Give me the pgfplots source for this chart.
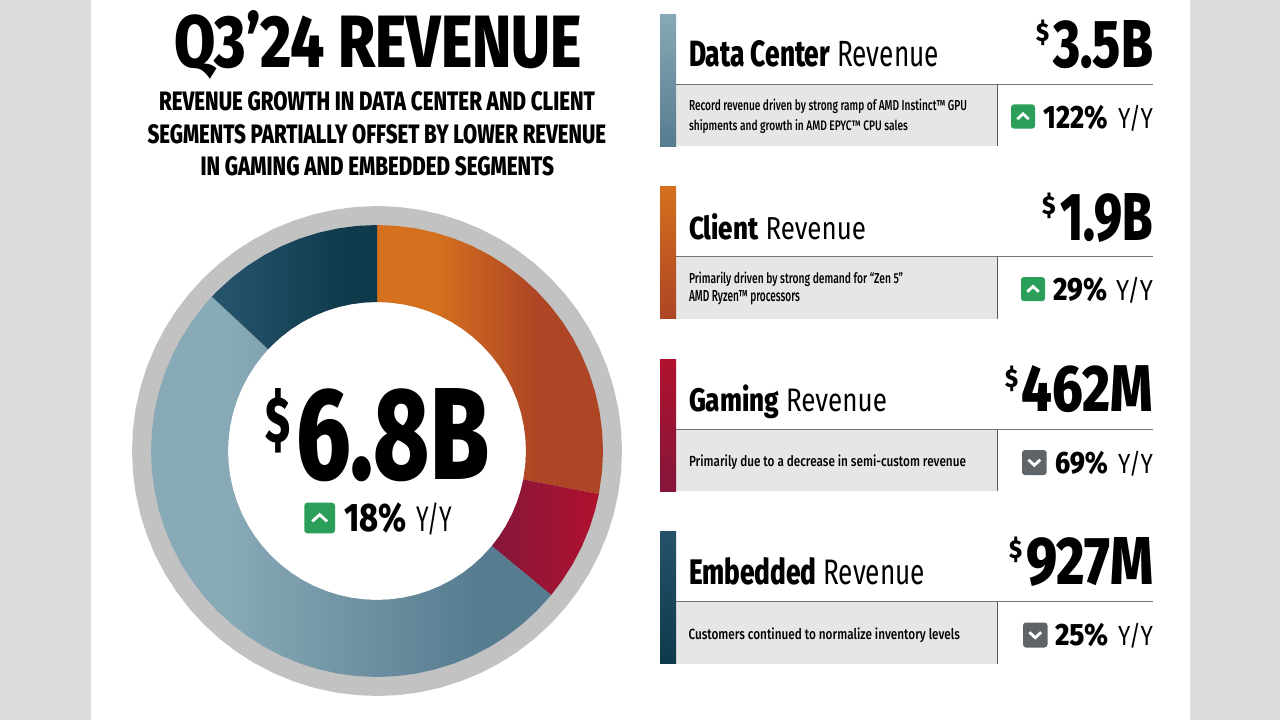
\documentclass[border=0pt]{standalone}
\usepackage{fontspec}
\usepackage{graphicx}
\usepackage{pgfplots}
\pgfplotsset{compat=1.18}
\usepgfplotslibrary{polar}
\setmainfont{Fira Sans}[BoldFont={Fira Sans ExtraBold}]
\newfontfamily\medfont{Fira Sans Medium}
\definecolor{pagegray}{HTML}{DCDCDC}
\definecolor{ringgray}{HTML}{C2C2C2}
\definecolor{boxgray}{HTML}{E6E6E6}
\definecolor{upgreen}{HTML}{2B9E5A}
\definecolor{downgray}{HTML}{5F6468}
\definecolor{dcL}{HTML}{88A9B6}\definecolor{dcR}{HTML}{567C90}
\definecolor{clL}{HTML}{D4701E}\definecolor{clR}{HTML}{AE4525}
\definecolor{gaL}{HTML}{84163A}\definecolor{gaR}{HTML}{B0122E}
\definecolor{emL}{HTML}{25526A}\definecolor{emR}{HTML}{0F3A4B}
\pgfdeclarehorizontalshading{clshade}{100bp}{color(0bp)=(clL); color(38bp)=(clL); color(60bp)=(clR); color(100bp)=(clR)}
\pgfdeclarehorizontalshading{dcshade}{100bp}{color(0bp)=(dcL); color(35bp)=(dcL); color(66bp)=(dcR); color(100bp)=(dcR)}
\pgfdeclarehorizontalshading{emshade}{100bp}{color(0bp)=(emL); color(30bp)=(emL); color(66bp)=(emR); color(100bp)=(emR)}
\newcommand{\T}[5]{\node[anchor=base west,inner sep=0pt,outer sep=0pt] at (#1pt,-#2pt) {\resizebox{#3pt}{#4pt}{\fontsize{20}{24}\selectfont #5}};}
\newcommand{\updown}[5]{% x0 y0 x1 y1 colour
  \fill[#5,rounded corners=3pt] (#1pt,-#2pt) rectangle (#3pt,-#4pt);}
\newcommand{\chevup}[4]{\pgfmathsetmacro\cx{(#1+#3)/2}\pgfmathsetmacro\cy{(#2+#4)/2}%
  \pgfmathsetmacro\hw{(#3-#1)*0.24}\pgfmathsetmacro\hh{(#4-#2)*0.11}%
  \draw[white,line width=2.8pt,line join=miter] (\cx pt-\hw pt,-\cy pt-\hh pt) -- (\cx pt,-\cy pt+\hh pt) -- (\cx pt+\hw pt,-\cy pt-\hh pt);}
\newcommand{\chevdown}[4]{\pgfmathsetmacro\cx{(#1+#3)/2}\pgfmathsetmacro\cy{(#2+#4)/2}%
  \pgfmathsetmacro\hw{(#3-#1)*0.24}\pgfmathsetmacro\hh{(#4-#2)*0.11}%
  \draw[white,line width=2.8pt,line join=miter] (\cx pt-\hw pt,-\cy pt+\hh pt) -- (\cx pt,-\cy pt-\hh pt) -- (\cx pt+\hw pt,-\cy pt+\hh pt);}
% panel: y-top, top colour, bottom colour
\newcommand{\panel}[3]{\pgfmathsetmacro\yb{#1+132}\pgfmathsetmacro\yl{#1+70}%
  \fill[boxgray] (676pt,-\yl pt) rectangle (997pt,-\yb pt);
  \shade[top color=#2,bottom color=#3] (660pt,-#1pt) rectangle (676pt,-\yb pt);
  \draw[color=black!55,line width=1pt] (676pt,-\yl pt) -- (1153pt,-\yl pt);
  \draw[color=black!65,line width=1pt] (997.5pt,-\yl pt) -- (997.5pt,-\yb pt);}
\begin{document}
\begin{tikzpicture}[x=1pt,y=1pt]
\fill[pagegray] (0pt,0pt) rectangle (1280pt,-720pt);
\fill[white] (91pt,0pt) rectangle (1190pt,-720pt);
\begin{polaraxis}[at={(377pt,-451pt)},anchor=center,scale only axis,width=490pt,height=490pt,
  xmin=0,xmax=360,ymin=0,ymax=245,hide axis,clip=false]
% outer grey ring
\addplot[fill=ringgray,draw=none] coordinates {(0,245)(5,245)(10,245)(15,245)(20,245)(25,245)(30,245)(35,245)(40,245)(45,245)(50,245)(55,245)(60,245)(65,245)(70,245)(75,245)(80,245)(85,245)(90,245)(95,245)(100,245)(105,245)(110,245)(115,245)(120,245)(125,245)(130,245)(135,245)(140,245)(145,245)(150,245)(155,245)(160,245)(165,245)(170,245)(175,245)(180,245)(185,245)(190,245)(195,245)(200,245)(205,245)(210,245)(215,245)(220,245)(225,245)(230,245)(235,245)(240,245)(245,245)(250,245)(255,245)(260,245)(265,245)(270,245)(275,245)(280,245)(285,245)(290,245)(295,245)(300,245)(305,245)(310,245)(315,245)(320,245)(325,245)(330,245)(335,245)(340,245)(345,245)(350,245)(355,245)} -- cycle;
% hole
\addplot[fill=white,draw=none] coordinates {(0,149)(5,149)(10,149)(15,149)(20,149)(25,149)(30,149)(35,149)(40,149)(45,149)(50,149)(55,149)(60,149)(65,149)(70,149)(75,149)(80,149)(85,149)(90,149)(95,149)(100,149)(105,149)(110,149)(115,149)(120,149)(125,149)(130,149)(135,149)(140,149)(145,149)(150,149)(155,149)(160,149)(165,149)(170,149)(175,149)(180,149)(185,149)(190,149)(195,149)(200,149)(205,149)(210,149)(215,149)(220,149)(225,149)(230,149)(235,149)(240,149)(245,149)(250,149)(255,149)(260,149)(265,149)(270,149)(275,149)(280,149)(285,149)(290,149)(295,149)(300,149)(305,149)(310,149)(315,149)(320,149)(325,149)(330,149)(335,149)(340,149)(345,149)(350,149)(355,149)} -- cycle;
% Client
\addplot[shade,shading=clshade,draw=none] coordinates {(90,226)(85,226)(80,226)(75,226)(70,226)(65,226)(60,226)(55,226)(50,226)(45,226)(40,226)(35,226)(30,226)(25,226)(20,226)(15,226)(10,226)(5,226)(0,226)(-5,226)(-11,226)
(-11,149)(-5,149)(0,149)(5,149)(10,149)(15,149)(20,149)(25,149)(30,149)(35,149)(40,149)(45,149)(50,149)(55,149)(60,149)(65,149)(70,149)(75,149)(80,149)(85,149)(90,149)} -- cycle;
% Gaming
\addplot[left color=gaL,right color=gaR,draw=none] coordinates {(-11,226)(-15,226)(-20,226)(-25,226)(-30,226)(-35,226)(-39.6,226)
(-39.6,149)(-35,149)(-30,149)(-25,149)(-20,149)(-15,149)(-11,149)} -- cycle;
% Data Center
\addplot[shade,shading=dcshade,draw=none] coordinates {(-39.6,226)(-45,226)(-50,226)(-55,226)(-60,226)(-65,226)(-70,226)(-75,226)(-80,226)(-85,226)(-90,226)(-95,226)(-100,226)(-105,226)(-110,226)(-115,226)(-120,226)(-125,226)(-130,226)(-135,226)(-140,226)(-145,226)(-150,226)(-155,226)(-160,226)(-165,226)(-170,226)(-175,226)(-180,226)(-185,226)(-190,226)(-195,226)(-200,226)(-205,226)(-210,226)(-215,226)(-220,226)(-223.1,226)
(-223.1,149)(-220,149)(-215,149)(-210,149)(-205,149)(-200,149)(-195,149)(-190,149)(-185,149)(-180,149)(-175,149)(-170,149)(-165,149)(-160,149)(-155,149)(-150,149)(-145,149)(-140,149)(-135,149)(-130,149)(-125,149)(-120,149)(-115,149)(-110,149)(-105,149)(-100,149)(-95,149)(-90,149)(-85,149)(-80,149)(-75,149)(-70,149)(-65,149)(-60,149)(-55,149)(-50,149)(-45,149)(-39.6,149)} -- cycle;
% Embedded
\addplot[shade,shading=emshade,draw=none] coordinates {(-223.1,226)(-225,226)(-230,226)(-235,226)(-240,226)(-245,226)(-250,226)(-255,226)(-260,226)(-265,226)(-270,226)
(-270,149)(-265,149)(-260,149)(-255,149)(-250,149)(-245,149)(-240,149)(-235,149)(-230,149)(-225,149)(-223.1,149)} -- cycle;
\end{polaraxis}
% title block
\T{174.5}{67.6}{407}{57}{\bfseries Q3’24 REVENUE}
\T{159}{110}{436}{19}{\bfseries REVENUE GROWTH IN DATA CENTER AND CLIENT}
\T{147.5}{143.3}{458.5}{19}{\bfseries SEGMENTS PARTIALLY OFFSET BY LOWER REVENUE}
\T{200.5}{175}{353.5}{19}{\bfseries IN GAMING AND EMBEDDED SEGMENTS}
% centre
\T{265}{442}{25}{54}{\bfseries\$}
\T{296.7}{479.3}{192.3}{91}{\bfseries 6.8B}
\updown{304.3}{502.7}{335}{533.3}{upgreen}\chevup{304.3}{502.7}{335}{533.3}
\T{344.3}{531.7}{62.4}{28.7}{\bfseries 18\%}
\T{416.7}{531.7}{35.6}{28.7}{Y/Y}
% panels
\panel{14}{dcL}{dcR}
\panel{186.5}{clL}{clR}
\panel{359}{gaR}{gaL}
\panel{531.5}{emL}{emR}
% Data Center
\T{689}{66.7}{250}{26}{\textbf{Data Center} Revenue}
\T{1036}{41.5}{13}{21.5}{\bfseries\$}
\T{1053}{67.7}{100}{47}{\bfseries 3.5B}
\T{689}{110.7}{278}{11.5}{\medfont Record revenue driven by strong ramp of AMD Instinct™ GPU}
\T{689}{130}{219}{11}{\medfont shipments and growth in AMD EPYC™ CPU sales}
\updown{1011}{104.3}{1035}{128.7}{upgreen}\chevup{1011}{104.3}{1035}{128.7}
\T{1043.3}{128.3}{64.5}{23.3}{\bfseries 122\%}
\T{1118}{128.3}{35}{23.3}{Y/Y}
% Client
\T{689}{239.2}{177}{26}{\textbf{Client} Revenue}
\T{1042}{214}{13.5}{21.5}{\bfseries\$}
\T{1060.5}{240.2}{92.5}{47}{\bfseries 1.9B}
\T{689}{283.2}{214}{11.5}{\medfont Primarily driven by strong demand for “Zen 5”}
\T{689}{301.5}{111}{11}{\medfont AMD Ryzen™ processors}
\updown{1021}{277}{1045}{301.2}{upgreen}\chevup{1021}{277}{1045}{301.2}
\T{1053}{300.8}{54}{23.3}{\bfseries 29\%}
\T{1116}{300.8}{37}{23.3}{Y/Y}
% Gaming
\T{689}{411.7}{198}{26.7}{\textbf{Gaming} Revenue}
\T{1005}{387}{13}{21.5}{\bfseries\$}
\T{1021.7}{411}{131.3}{46}{\bfseries 462M}
\T{689}{466.7}{277}{11.7}{\medfont Primarily due to a decrease in semi-custom revenue}
\updown{1022}{450}{1046.7}{475}{downgray}\chevdown{1022}{450}{1046.7}{475}
\T{1055}{473.3}{53}{22.3}{\bfseries 69\%}
\T{1118}{473.3}{35}{22.3}{Y/Y}
% Embedded
\T{689}{584.2}{236}{27}{\textbf{Embedded} Revenue}
\T{1009}{558.2}{13}{21.5}{\bfseries\$}
\T{1026.5}{584}{127}{47}{\bfseries 927M}
\T{688.5}{639.2}{271.5}{11.7}{\medfont Customers continued to normalize inventory levels}
\updown{1023}{622.5}{1047.5}{647.5}{downgray}\chevdown{1023}{622.5}{1047.5}{647.5}
\T{1055}{645.8}{53}{22.3}{\bfseries 25\%}
\T{1118}{645.8}{35}{22.3}{Y/Y}
\end{tikzpicture}
\end{document}
